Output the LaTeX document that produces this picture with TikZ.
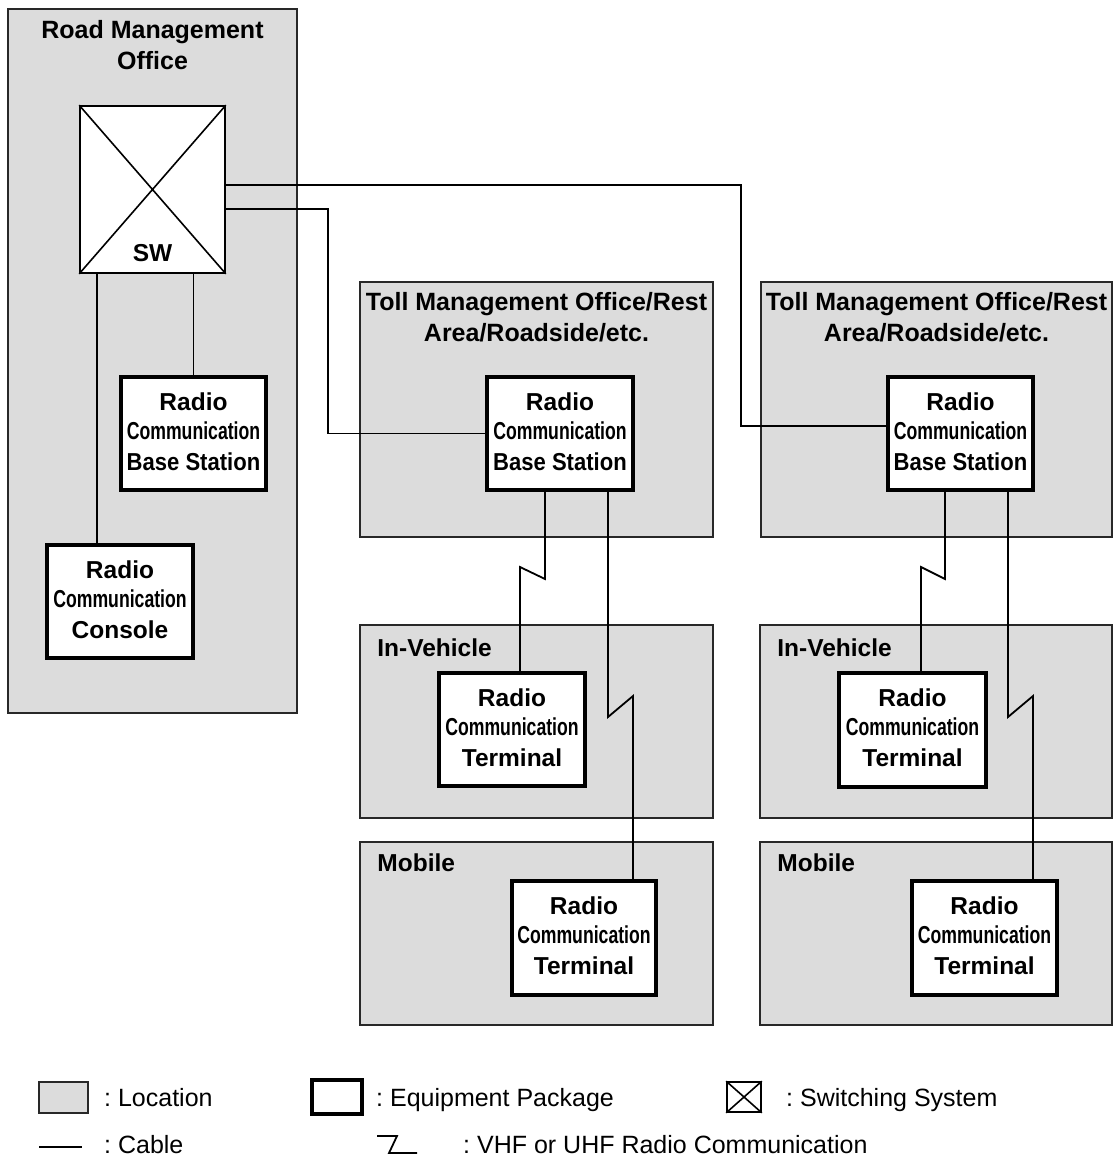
\documentclass[tikz,border=0pt]{standalone}
\usepackage{fontspec}
\setmainfont{Liberation Sans}
\usetikzlibrary{fit,calc}
\definecolor{locgray}{RGB}{220,220,220}
\definecolor{locline}{RGB}{40,40,40}
\frenchspacing
\newcommand\mkeqtext[4]{%
  \node[btxt] (#1a) at ($(#1.north)+(0,35)$) {#2};
  \node[btxt] (#1b) at ($(#1.north)+(0,64)$) {#3};
  \node[btxt] (#1c) at ($(#1.north)+(0,95)$) {#4};
}
\newcommand\comm{\scalebox{0.72}[1]{Communication}}
\newcommand\bstat{\scalebox{0.9}[1]{Base Station}}
\begin{document}
\begin{tikzpicture}[x=1pt,y=-1pt,
  loc/.style={draw=locline, fill=locgray, line width=1.6pt, inner sep=0pt},
  equip/.style={draw=black, fill=white, line width=4pt, inner sep=0pt},
  swbox/.style={draw=black, fill=white, line width=1.6pt, inner sep=0pt},
  cable/.style={draw=black, line width=1.8pt},
  btxt/.style={font=\fontsize{24.5}{29}\selectfont\bfseries, anchor=base, inner sep=0pt},
  ttxt/.style={font=\fontsize{25}{30}\selectfont\bfseries, anchor=base, inner sep=0pt},
  ltxt/.style={font=\fontsize{24.5}{29}\selectfont\bfseries, anchor=base west, inner sep=0pt},
  legtxt/.style={font=\fontsize{25}{30}\selectfont, anchor=base west, inner sep=0pt},
]
\useasboundingbox (0,0) rectangle (1113,1157);
\fill[white] (0,0) rectangle (1113,1157);

% locations
\node[loc, fit={(8,9) (297,713)}] (rmo) {};
\node[loc, fit={(360,282) (713,537)}] (toll1) {};
\node[loc, fit={(360,625) (713,818)}] (veh1) {};
\node[loc, fit={(360,842) (713,1025)}] (mob1) {};
\node[loc, fit={(761,282) (1112,537)}] (toll2) {};
\node[loc, fit={(760,625) (1112,818)}] (veh2) {};
\node[loc, fit={(760,842) (1112,1025)}] (mob2) {};

% location titles
\node[ttxt] (rmoT1) at ($(rmo.north)+(0,30)$) {Road Management};
\node[ttxt] (rmoT2) at ($(rmo.north)+(0,61)$) {Office};
\node[ttxt] (toll1T1) at ($(toll1.north)+(0,29)$) {Toll Management Office/Rest};
\node[ttxt] (toll1T2) at ($(toll1.north)+(0,60)$) {Area/Roadside/etc.};
\node[ttxt] (toll2T1) at ($(toll2.north)+(0,29)$) {Toll Management Office/Rest};
\node[ttxt] (toll2T2) at ($(toll2.north)+(0,60)$) {Area/Roadside/etc.};
\node[ltxt] (veh1T) at ($(veh1.north west)+(18,32)$) {In-Vehicle};
\node[ltxt] (veh2T) at ($(veh2.north west)+(18,32)$) {In-Vehicle};
\node[ltxt] (mob1T) at ($(mob1.north west)+(18,30)$) {Mobile};
\node[ltxt] (mob2T) at ($(mob2.north west)+(18,30)$) {Mobile};

% switching system
\node[swbox, fit={(80,106) (225,273)}] (sw) {};
\draw[line width=1.6pt] (sw.north west) -- (sw.south east) (sw.north east) -- (sw.south west);
\node[btxt] (swT) at ($(sw.south)+(0,-12)$) {SW};

% equipment packages
\node[equip, fit={(121,377) (266,490)}] (bs0) {};
\node[equip, fit={(47,545) (193,658)}] (con) {};
\node[equip, fit={(487,377) (633,490)}] (bs1) {};
\node[equip, fit={(439,673) (585,786)}] (term1) {};
\node[equip, fit={(512,881) (656,995)}] (mterm1) {};
\node[equip, fit={(888,377) (1033,490)}] (bs2) {};
\node[equip, fit={(839,673) (986,787)}] (term2) {};
\node[equip, fit={(912,881) (1057,995)}] (mterm2) {};

% connector bend points
\coordinate (k1) at (97,0);
\coordinate (j1) at (328,209);
\coordinate (j2) at (741,185);
\coordinate (j2b) at (741,426);
\coordinate (z1a) at (545,579); \coordinate (z1b) at (520,567);
\coordinate (z2a) at (608,717); \coordinate (z2b) at (633,696);
\coordinate (z3a) at (945,579); \coordinate (z3b) at (921,567);
\coordinate (z4a) at (1008,717); \coordinate (z4b) at (1033,696);

% connectors
\draw[cable] (sw.south -| k1) -- (con.north -| k1);
\draw[cable] (bs0.north |- sw.south) -- (bs0.north);
\draw[cable] (sw.east |- j1) -- (j1) |- (bs1.west);
\draw[cable] (sw.east |- j2) -- (j2) -- (j2b) -- (bs2.west |- j2b);
\draw[cable] (bs1.south -| z1a) -- (z1a) -- (z1b) -- (term1.north -| z1b);
\draw[cable] (bs1.south -| z2a) -- (z2a) -- (z2b) -- (mterm1.north -| z2b);
\draw[cable] (bs2.south -| z3a) -- (z3a) -- (z3b) -- (term2.north -| z3b);
\draw[cable] (bs2.south -| z4a) -- (z4a) -- (z4b) -- (mterm2.north -| z4b);

% equipment texts
\mkeqtext{bs0}{Radio}{\comm}{\bstat}
\mkeqtext{con}{Radio}{\comm}{Console}
\mkeqtext{bs1}{Radio}{\comm}{\bstat}
\mkeqtext{term1}{Radio}{\comm}{Terminal}
\mkeqtext{mterm1}{Radio}{\comm}{Terminal}
\mkeqtext{bs2}{Radio}{\comm}{\bstat}
\mkeqtext{term2}{Radio}{\comm}{Terminal}
\mkeqtext{mterm2}{Radio}{\comm}{Terminal}

% legend
\node[loc, fit={(39,1082) (88,1113)}] (legLoc) {};
\node[legtxt] (legLocT) at (104,1106) {: Location};
\node[equip, fit={(312,1080) (362,1114)}] (legEq) {};
\node[legtxt] (legEqT) at (376,1106) {: Equipment Package};
\node[swbox, fit={(727,1082) (761,1112)}] (legSw) {};
\draw[line width=1.6pt] (legSw.north west) -- (legSw.south east) (legSw.north east) -- (legSw.south west);
\node[legtxt] (legSwT) at (786,1106) {: Switching System};
\coordinate (lc1) at (39,1147); \coordinate (lc2) at (82,1147);
\draw[cable] (lc1) -- (lc2);
\node[legtxt] (legCabT) at (104,1153) {: Cable};
\coordinate (lr1) at (377,1136); \coordinate (lr2) at (397,1136);
\coordinate (lr3) at (389,1153); \coordinate (lr4) at (417,1153);
\draw[cable] (lr1) -- (lr2) -- (lr3) -- (lr4);
\node[legtxt] (legRadT) at (463,1153) {: VHF or UHF Radio Communication};
\end{tikzpicture}
\end{document}
